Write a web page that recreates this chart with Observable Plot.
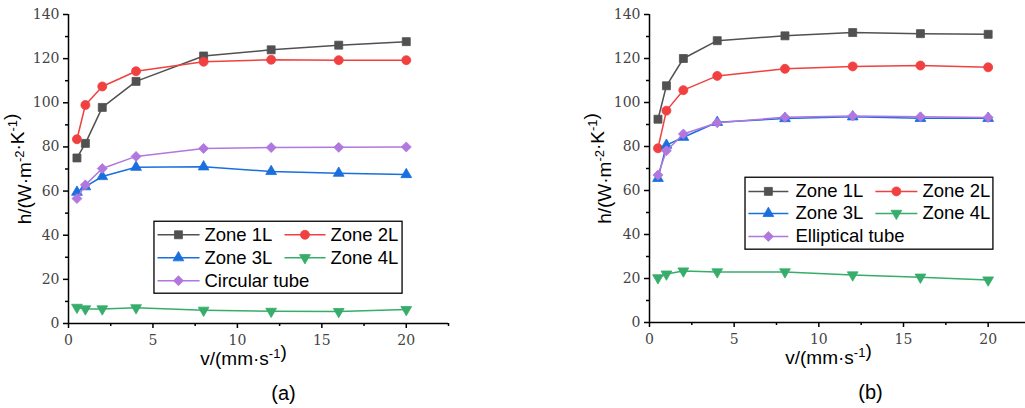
<!DOCTYPE html>
<html><head><meta charset="utf-8">
<script src="https://cdn.jsdelivr.net/npm/d3@7"></script>
<script src="https://cdn.jsdelivr.net/npm/@observablehq/plot@0.6"></script>
<style>
html,body{margin:0;padding:0;background:#fff;}
#wrap{display:flex;width:1025px;height:408px;overflow:hidden;}
#wrap svg{display:block;flex:none;}
</style></head><body><div id="wrap"></div>
<script>
// ---- data ----
const velocity = [0.5, 1, 2, 4, 8, 12, 16, 20];
const seriesA = ["Zone 1L", "Zone 2L", "Zone 3L", "Zone 4L", "Circular tube"];
const seriesB = ["Zone 1L", "Zone 2L", "Zone 3L", "Zone 4L", "Elliptical tube"];
const a_zone1L   = [75, 81.6, 97.9, 109.7, 121.2, 124, 126.1, 127.7];
const a_zone2L   = [83.5, 99, 107.4, 114.3, 118.6, 119.5, 119.3, 119.3];
const a_zone3L   = [59.5, 62, 66.6, 70.8, 71, 68.9, 68.1, 67.5];
const a_zone4L   = [7.3, 6.6, 6.6, 7.1, 6, 5.5, 5.4, 6.3];
const a_circular = [56.6, 62.8, 70.2, 75.7, 79.3, 79.7, 79.8, 80];
const b_zone1L   = [92.4, 107.6, 120, 128.1, 130.3, 131.8, 131.3, 131];
const b_zone2L   = [79.2, 96.3, 105.6, 112.1, 115.3, 116.4, 116.8, 116];
const b_zone3L   = [65.5, 80.6, 84.2, 91, 92.7, 93.5, 92.8, 92.8];
const b_zone4L   = [20.3, 22, 23.4, 23, 23, 21.6, 20.6, 19.3];
const b_elliptical = [67, 78.1, 85.7, 90.8, 93.3, 93.9, 93.5, 93.2];
const xTicks = [0, 5, 10, 15, 20];
const xMinorTicks = [2.5, 7.5, 12.5, 17.5, 22.5];
const yTicks = [0, 20, 40, 60, 80, 100, 120, 140];
const yMinorTicks = [10, 30, 50, 70, 90, 110, 130];
const xLabel = "v/(mm·s-1)";
const yLabel = "h/(W·m-2·K-1)";
const captions = ["(a)", "(b)"];

// ---- styles ----
const colors = ["#515151", "#F14040", "#1A6FDF", "#37AD6B", "#B177DE"];
const sqrt3 = Math.sqrt(3);
const triangleDown = {
  draw(ctx, size) {
    const y = -Math.sqrt(size / (sqrt3 * 3));
    ctx.moveTo(0, -y * 2);
    ctx.lineTo(-sqrt3 * y, y);
    ctx.lineTo(sqrt3 * y, y);
    ctx.closePath();
  }
};
const symbols = ["square", "circle", "triangle", triangleDown, "diamond2"];
const radii = [4.5, 4.5, 4, 4, 4.5];
const sans = "'Liberation Sans', Arial, sans-serif";
const serif = "'DejaVu Serif', serif";

function toRows(arr) { return velocity.map((v, i) => ({v, h: arr[i]})); }

function panel(opts) {
  const {series, values, width, marginLeft, marginBottom, xRange, legend, caption, ylabDx, xlabDx, capDx} = opts;
  const marks = [];
  // legend box
  marks.push(Plot.rect([legend], {x1: d => d.x1, x2: d => d.x2, y1: d => d.y1, y2: d => d.y2,
    fill: "white", stroke: "black", strokeWidth: 1.3}));
  // legend entries
  series.forEach((name, i) => {
    const col = i % 2, row = Math.floor(i / 2);
    const e = {name, y: legend.rows[row], l1: legend.cols[col][0], l2: legend.cols[col][1],
      m: legend.cols[col][2], t: legend.cols[col][3]};
    marks.push(Plot.link([e], {x1: d => d.l1, x2: d => d.l2, y1: d => d.y, y2: d => d.y,
      stroke: colors[i], strokeWidth: 1.5}));
    marks.push(Plot.dot([e], {x: d => d.m, y: d => d.y, symbol: symbols[i], r: radii[i],
      fill: colors[i], stroke: colors[i], strokeWidth: 0.8}));
    marks.push(Plot.text([e], {x: d => d.t, y: d => d.y, text: d => d.name, textAnchor: "start",
      lineAnchor: "middle", fontSize: 18.5, fontFamily: sans, fill: "black"}));
  });
  // series
  values.forEach((arr, i) => {
    const rows = toRows(arr);
    marks.push(Plot.line(rows, {x: "v", y: "h", stroke: colors[i], strokeWidth: 1.5}));
    marks.push(Plot.dot(rows, {x: "v", y: "h", symbol: symbols[i], r: radii[i],
      fill: colors[i], stroke: colors[i], strokeWidth: 0.8}));
  });
  // axes: ticks
  marks.push(Plot.axisX(xTicks, {tickSize: 5, tickFormat: () => "", strokeWidth: 1.5, stroke: "black", label: null}));
  marks.push(Plot.axisX(xMinorTicks, {tickSize: 3, tickFormat: () => "", strokeWidth: 1.5, stroke: "black", label: null}));
  marks.push(Plot.axisY(yTicks, {tickSize: 5, tickFormat: () => "", strokeWidth: 1.5, stroke: "black", label: null}));
  marks.push(Plot.axisY(yMinorTicks, {tickSize: 3, tickFormat: () => "", strokeWidth: 1.5, stroke: "black", label: null}));
  // axes: tick labels (serif)
  marks.push(Plot.text(xTicks, {x: d => d, frameAnchor: "bottom", lineAnchor: "top", dy: 12,
    text: d => String(d), fontSize: 14, fontFamily: serif, fill: "#444"}));
  marks.push(Plot.text(yTicks, {y: d => d, frameAnchor: "left", textAnchor: "end", lineAnchor: "middle", dx: -9,
    text: d => String(d), fontSize: 14, fontFamily: serif, fill: "#444"}));
  marks.push(Plot.ruleY([0], {stroke: "black", strokeWidth: 1.5}));
  marks.push(Plot.ruleX([0], {stroke: "black", strokeWidth: 1.5}));
  // labels
  marks.push(Plot.text([yLabel], {frameAnchor: "left", textAnchor: "middle", rotate: -90, dx: ylabDx,
    fontSize: 19, fontFamily: sans, fill: "black", className: "ylab"}));
  marks.push(Plot.text([xLabel], {frameAnchor: "bottom", textAnchor: "middle", dx: xlabDx, dy: 41,
    lineAnchor: "bottom", fontSize: 19, fontFamily: sans, fill: "black", className: "xlab"}));
  marks.push(Plot.text([caption], {frameAnchor: "bottom", textAnchor: "middle", dx: capDx, dy: 76,
    lineAnchor: "bottom", fontSize: 20, fontFamily: sans, fill: "black"}));

  const svg = Plot.plot({
    width, height: 408, marginLeft, marginRight: opts.marginRight, marginTop: 14, marginBottom,
    x: {domain: [0, 22.5], range: xRange},
    y: {domain: [0, 140]},
    style: {background: "white", overflow: "hidden"},
    marks
  });
  // superscripts
  const sup = s => s.replace(/(-\d)/g, '<tspan dy="-7" font-size="13">$1</tspan><tspan dy="7"></tspan>');
  svg.querySelectorAll("g.ylab text, g.xlab text").forEach(t => { t.innerHTML = sup(t.textContent); });
  return svg;
}

const wrap = document.getElementById("wrap");
wrap.appendChild(panel({
  series: seriesA, values: [a_zone1L, a_zone2L, a_zone3L, a_zone4L, a_circular],
  width: 512, marginLeft: 68, marginRight: 64, marginBottom: 85, xRange: [68, 448],
  legend: {x1: 5.09, x2: 19.78, y1: 13.5, y2: 46.1, rows: [40.2, 29.8, 19.4],
    cols: [[5.27, 7.76, 6.51, 8.05], [12.79, 15.22, 14.0, 15.51]]},
  caption: captions[0], ylabDx: -44, xlabDx: -15, capDx: 25
}));
wrap.appendChild(panel({
  series: seriesB, values: [b_zone1L, b_zone2L, b_zone3L, b_zone4L, b_elliptical],
  width: 513, marginLeft: 137, marginRight: 0, marginBottom: 86, xRange: [137, 518],
  legend: {x1: 5.67, x2: 20.31, y1: 33.1, y2: 65.8, rows: [59.6, 49.6, 39.1],
    cols: [[5.84, 8.2, 7.02, 8.62], [13.34, 15.82, 14.58, 16.12]]},
  caption: captions[1], ylabDx: -45, xlabDx: -9, capDx: 33
}));
</script></body></html>
